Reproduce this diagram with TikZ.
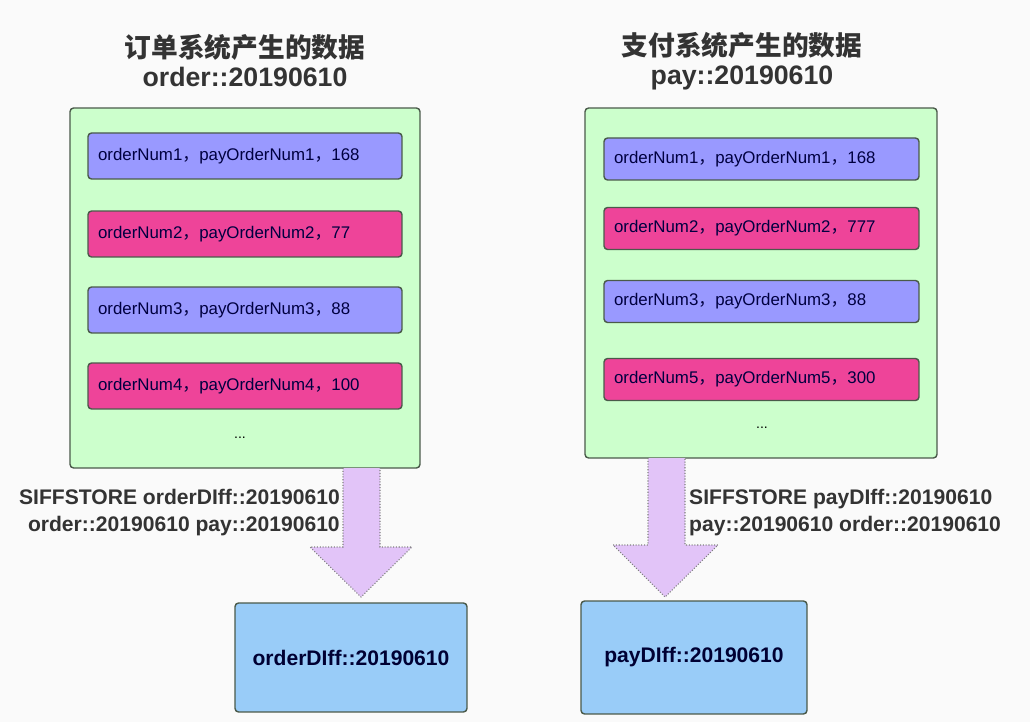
\documentclass[tikz,border=0pt]{standalone}
\usepackage{fontspec}
\setmainfont{Liberation Sans}
\newfontfamily\cjk{Noto Sans CJK SC}
\usetikzlibrary{positioning}
\definecolor{setgreen}{HTML}{CCFFCC}
\definecolor{rowblue}{HTML}{9999FF}
\definecolor{rowpink}{HTML}{EE4499}
\definecolor{diffblue}{HTML}{99CCF8}
\definecolor{arrowlilac}{HTML}{E2C4F8}
\definecolor{edgegray}{HTML}{4A5A4A}
\definecolor{inkgray}{HTML}{333333}
\newcommand{\cm}{{\cjk ，}}

\begin{document}
\begin{tikzpicture}[x=0.02cm, y=-0.02cm,
  setbox/.style={draw=edgegray, fill=setgreen, line width=0.8pt, rounded corners=2pt},
  rowbox/.style={draw=edgegray, line width=0.8pt, rounded corners=2pt, text=black!75!blue,
    font=\fontsize{9.6}{11}\selectfont, align=left, inner xsep=0.2cm},
  diffbox/.style={draw=edgegray, fill=diffblue, line width=0.8pt, rounded corners=2pt,
    text=black!80!blue, font=\fontsize{12}{14}\selectfont\bfseries},
  title/.style={text=inkgray, align=center, font=\fontsize{15.2}{16.5}\selectfont\bfseries},
  cmd/.style={text=inkgray, font=\fontsize{12}{15.4}\selectfont\bfseries},
  bigarrow/.style={draw=gray, fill=arrowlilac, densely dotted, line width=0.6pt}]
  \useasboundingbox[fill=black!2] (0,0) rectangle (1030,722);

  % titles
  \node[title] (ordertitle) at (245,61) {{\cjk 订单系统产生的数据}\\order::20190610};
  \node[title] (paytitle) at (742,61) {{\cjk 支付系统产生的数据}\\pay::20190610};

  % order set
  \node[setbox, minimum width=7cm, minimum height=7.2cm] (orderset) at (245,288) {};
  \node[rowbox, fill=rowblue, text width=5.88cm, minimum height=0.92cm] (o1) at (245,156) {orderNum1\cm payOrderNum1\cm 168};
  \node[rowbox, fill=rowpink, text width=5.88cm, minimum height=0.92cm] (o2) at (245,234) {orderNum2\cm payOrderNum2\cm 77};
  \node[rowbox, fill=rowblue, text width=5.88cm, minimum height=0.92cm] (o3) at (245,310) {orderNum3\cm payOrderNum3\cm 88};
  \node[rowbox, fill=rowpink, text width=5.88cm, minimum height=0.92cm] (o4) at (245,386) {orderNum4\cm payOrderNum4\cm 100};
  \node[font=\fontsize{8}{10}\selectfont] (odots) at (240,438) {...};

  % pay set
  \node[setbox, minimum width=7.04cm, minimum height=7cm] (payset) at (761,283) {};
  \node[rowbox, fill=rowblue, text width=5.9cm, minimum height=0.84cm] (p1) at (761.5,159) {orderNum1\cm payOrderNum1\cm 168};
  \node[rowbox, fill=rowpink, text width=5.9cm, minimum height=0.84cm] (p2) at (761.5,228.5) {orderNum2\cm payOrderNum2\cm 777};
  \node[rowbox, fill=rowblue, text width=5.9cm, minimum height=0.84cm] (p3) at (761.5,301.5) {orderNum3\cm payOrderNum3\cm 88};
  \node[rowbox, fill=rowpink, text width=5.9cm, minimum height=0.84cm] (p4) at (761.5,379.5) {orderNum5\cm payOrderNum5\cm 300};
  \node[font=\fontsize{8}{10}\selectfont] (pdots) at (762,428) {...};

  % block arrows
  \draw[bigarrow] (343,468) -- (343,547) -- (310,547) -- (361,597) -- (412,547) -- (380,547) -- (380,468);
  \draw[bigarrow] (648,458) -- (648,545) -- (613,545) -- (665,597) -- (718,545) -- (685,545) -- (685,458);

  % commands
  \node[cmd, align=right, anchor=east] (ordercmd) at (346,513) {SIFFSTORE orderDIff::20190610\\order::20190610 pay::20190610};
  \node[cmd, align=left, anchor=west] (paycmd) at (683,513) {SIFFSTORE payDIff::20190610\\pay::20190610 order::20190610};

  % diff sets
  \node[diffbox, minimum width=4.64cm, minimum height=2.18cm] (orderdiff) at (351,657.5) {orderDIff::20190610};
  \node[diffbox, minimum width=4.52cm, minimum height=2.26cm] (paydiff) at (694,657.5) {payDIff::20190610};
\end{tikzpicture}
\end{document}
